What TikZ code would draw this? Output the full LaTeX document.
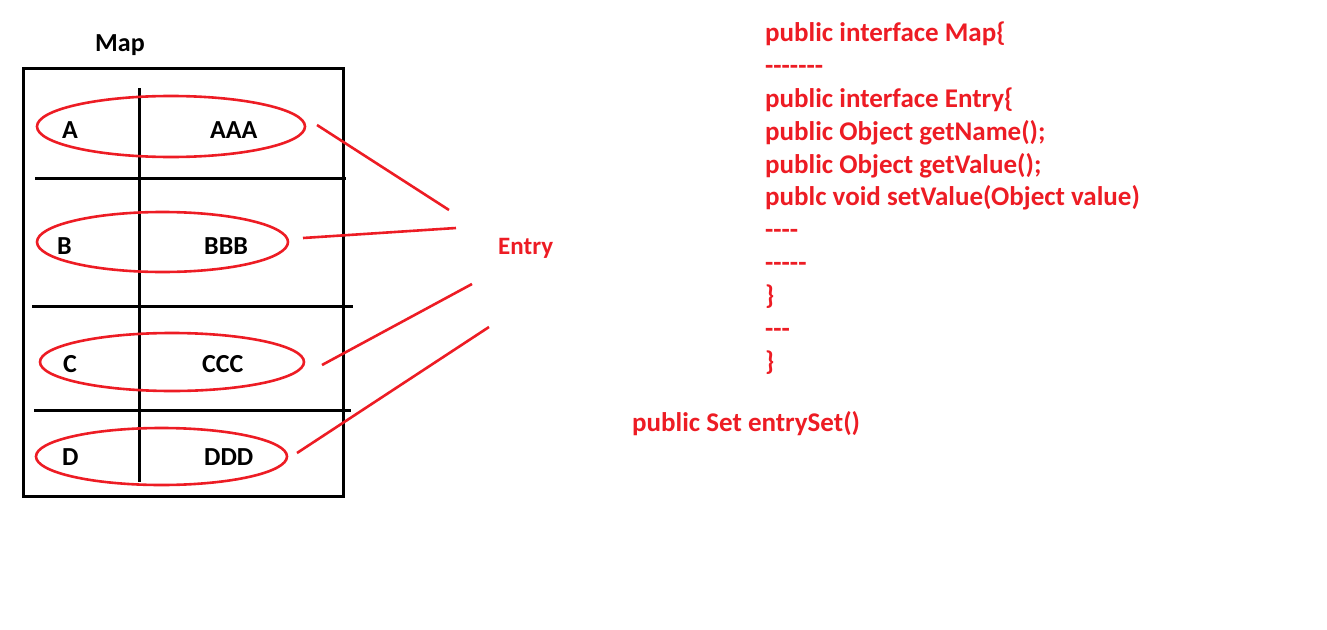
\documentclass[tikz,border=0pt]{standalone}
\usepackage{fontspec}
\setmainfont{Carlito}[Ligatures=TeXOff]
\usetikzlibrary{shapes.geometric}
\definecolor{pred}{RGB}{237,28,36}
\tikzset{
  blk/.style={line width=3pt, black},
  redln/.style={line width=2.6pt, pred},
  ell/.style={ellipse, draw=pred, line width=2.6pt, inner sep=0pt},
  lbl/.style={font=\fontsize{26}{30}\selectfont\bfseries, inner sep=0pt, anchor=base west},
  code/.style={lbl, font=\fontsize{27}{31}\selectfont\bfseries, text=pred},
}
\begin{document}
\begin{tikzpicture}[x=1pt,y=-1pt]
\useasboundingbox (0,0) rectangle (1327,629);
% map box
\node[lbl] (maplbl) at (95,51) {Map};
\draw[blk] (23,68) rectangle (343,496);
\draw[blk] (139,88) -- (139,482);
\draw[blk] (35,178) -- (346,178);
\draw[blk] (32,306) -- (353,306);
\draw[blk] (34,410) -- (351,410);
% ellipses
\node[ell, minimum width=268, minimum height=61] (eA) at (171,126.5) {};
\node[ell, minimum width=251, minimum height=60] (eB) at (162.5,242) {};
\node[ell, minimum width=264, minimum height=58] (eC) at (172,362) {};
\node[ell, minimum width=251, minimum height=57] (eD) at (161.5,456.5) {};
% keys and values
\node[lbl] (kA) at (62,138) {A};
\node[lbl] (vA) at (210,138) {AAA};
\node[lbl] (kB) at (57,254) {B};
\node[lbl] (vB) at (204,254) {BBB};
\node[lbl] (kC) at (63,372) {C};
\node[lbl] (vC) at (202,372) {CCC};
\node[lbl] (kD) at (62,465) {D};
\node[lbl] (vD) at (204,465) {DDD};
% entry
\node[code, font=\fontsize{25}{29}\selectfont\bfseries] (entry) at (498,254) {Entry};
\coordinate (a1) at (317,125); \coordinate (a2) at (449,210);
\coordinate (b1) at (303,238); \coordinate (b2) at (456,228);
\coordinate (c1) at (322,365); \coordinate (c2) at (472,284);
\coordinate (d1) at (297,453); \coordinate (d2) at (489,327);
\draw[redln] (a1) -- (a2);
\draw[redln] (b1) -- (b2);
\draw[redln] (c1) -- (c2);
\draw[redln] (d1) -- (d2);
% code
\node[code] (l1) at (765,41) {public interface Map\{};
\node[code] (l2) at (765,74) {-------};
\node[code] (l3) at (765,107) {public interface Entry\{};
\node[code] (l4) at (765,140) {public Object getName();};
\node[code] (l5) at (765,173) {public Object getValue();};
\node[code] (l6) at (765,205) {publc void setValue(Object value)};
\node[code] (l7) at (765,238) {----};
\node[code] (l8) at (765,271) {-----};
\node[code] (l9) at (765,304) {\}};
\node[code] (l10) at (765,337) {---};
\node[code] (l11) at (765,370) {\}};
\node[code] (es) at (632,431) {public Set entrySet()};
\end{tikzpicture}
\end{document}
